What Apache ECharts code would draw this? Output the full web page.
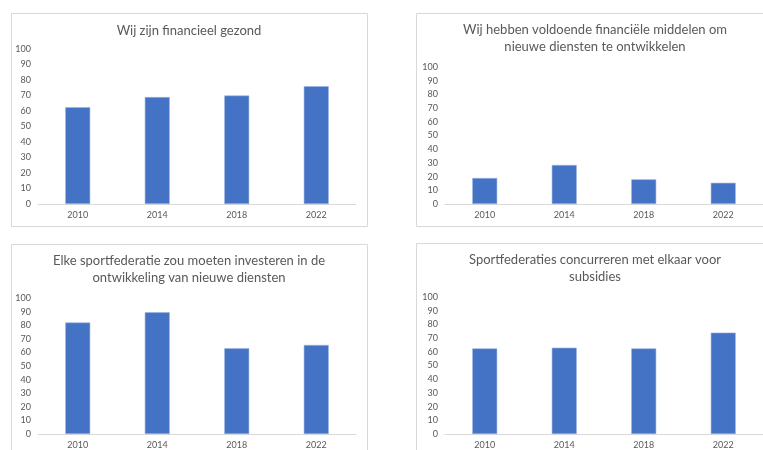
<!DOCTYPE html>
<html>
<head>
<meta charset="utf-8">
<script src="https://cdn.jsdelivr.net/npm/echarts@6/dist/echarts.min.js"></script>
<style>
  html, body { margin: 0; padding: 0; background: #fff; }
  #chart { width: 763px; height: 450px; }
</style>
</head>
<body>
<div id="chart"></div>
<script>
const categories = ['2010', '2014', '2018', '2022'];
const yTicks = [0, 10, 20, 30, 40, 50, 60, 70, 80, 90, 100];
const titles = [
  'Wij zijn financieel gezond',
  'Wij hebben voldoende financiële middelen om\nnieuwe diensten te ontwikkelen',
  'Elke sportfederatie zou moeten investeren in de\nontwikkeling van nieuwe diensten',
  'Sportfederaties concurreren met elkaar voor\nsubsidies'
];
const financieelGezond = [62.5, 69, 70, 76];
const voldoendeMiddelen = [19, 28.5, 18, 15.5];
const investeren = [82, 89.5, 63, 65.5];
const concurreren = [62.5, 63, 62.5, 74];

const seriesData = [financieelGezond, voldoendeMiddelen, investeren, concurreren];

const FONT = 'Lato';
const grids = [
  { left: 38, top: 49, width: 318, height: 155 },
  { left: 445, top: 67, width: 318, height: 137 },
  { left: 38, top: 298, width: 318, height: 138 },
  { left: 445, top: 297, width: 318, height: 138 }
];
const titlePos = [
  { x: 189, top: 22 },
  { x: 595, top: 21 },
  { x: 189, top: 252 },
  { x: 595, top: 251 }
];
const frames = [
  { x: 11, y: 13, w: 356, h: 213 },
  { x: 416, y: 13, w: 360, h: 213 },
  { x: 11, y: 244, w: 356, h: 220 },
  { x: 416, y: 243, w: 360, h: 220 }
];

const chart = echarts.init(document.getElementById('chart'), null, { renderer: 'canvas' });

const option = {
  backgroundColor: '#ffffff',
  animation: false,
  graphic: frames.map(f => ({
    type: 'rect',
    silent: true,
    z: -1,
    shape: { x: f.x + 0.5, y: f.y + 0.5, width: f.w, height: f.h },
    style: { fill: 'none', stroke: '#d9d9d9', lineWidth: 1 }
  })),
  title: titles.map((t, i) => ({
    text: t,
    left: titlePos[i].x,
    top: titlePos[i].top,
    textAlign: 'center',
    padding: 0,
    textStyle: {
      fontFamily: FONT,
      fontSize: 13,
      fontWeight: 'normal',
      color: '#595959',
      lineHeight: 17,
      align: 'center'
    }
  })),
  grid: grids.map(g => Object.assign({ containLabel: false }, g)),
  xAxis: grids.map((g, i) => ({
    type: 'category',
    gridIndex: i,
    data: categories,
    axisLine: { show: true, lineStyle: { color: '#d9d9d9', width: 1 } },
    axisTick: { show: false },
    axisLabel: { color: '#595959', fontSize: 9, fontFamily: FONT, margin: 7 },
    splitLine: { show: false }
  })),
  yAxis: grids.map((g, i) => ({
    type: 'value',
    gridIndex: i,
    min: yTicks[0],
    max: yTicks[yTicks.length - 1],
    interval: yTicks[1] - yTicks[0],
    axisLine: { show: false },
    axisTick: { show: false },
    axisLabel: { color: '#595959', fontSize: 9, fontFamily: FONT, margin: 7 },
    splitLine: { show: false }
  })),
  series: seriesData.map((d, i) => ({
    type: 'bar',
    xAxisIndex: i,
    yAxisIndex: i,
    data: d,
    barWidth: 25,
    itemStyle: { color: '#4472C4', borderColor: '#9db4e0', borderWidth: 0.6 }
  }))
};

chart.setOption(option);
</script>
</body>
</html>
